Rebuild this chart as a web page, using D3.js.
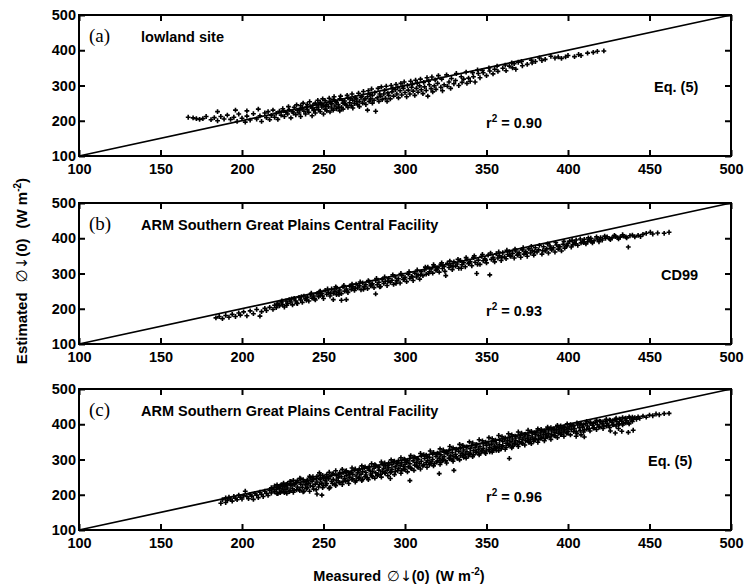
<!DOCTYPE html>
<html>
<head>
<meta charset="utf-8">
<script src="https://cdn.jsdelivr.net/npm/d3@7"></script>
<style>
  body { margin: 0; background: #fff; }
  text { font-family: "Liberation Sans", Arial, sans-serif; font-weight: bold; }
</style>
</head>
<body>
<div id="chart"></div>
<script>
// measured vs estimated, W m-2
const pointsA = [
  [167,210],[170,208],[172,206],[174,204],[176,206],[178,212],[181,203],[183,209],[185,226],[185,200],
  [187,212],[189,205],[191,216],[193,204],[195,210],[196,230],[197,198],[198,219],[200,207],[202,196],
  [203,228],[203,213],[205,202],[207,220],[209,205],[210,233],[211,214],[212,198],[214,222],[215,209],
  [216,226],[217,203],[218,215],[219,230],[220,210],[221,221],[222,204],[223,227],[224,216],[225,234],
  [226,212],[227,224],[228,219],[229,231],[230,208],[231,226],[232,238],[233,217],[234,229],[235,222],
  [236,243],[236,212],[237,235],[238,227],[239,219],[240,246],[240,232],[241,224],[242,240],[243,214],
  [243,236],[244,229],[245,250],[245,222],[246,238],[247,231],[247,245],[248,226],[248,252],[249,239],
  [250,219],[250,244],[251,233],[251,257],[252,228],[252,247],[253,240],[254,225],[254,255],[255,236],
  [255,248],[256,230],[256,260],[257,242],[258,234],[258,252],[259,246],[260,228],[260,262],[261,238],
  [262,250],[262,233],[263,256],[264,244],[265,238],[265,265],[266,251],[267,243],[268,258],[268,236],
  [269,249],[270,262],[271,245],[272,255],[272,240],[273,266],[274,250],[275,259],[276,246],[277,268],
  [277,230],[278,255],[279,262],[280,250],[280,272],[281,258],[282,227],[283,265],[284,255],[285,270],
  [286,260],[287,276],[288,264],[289,255],[290,272],[291,262],[292,282],[293,270],[294,288],[295,276],
  [296,265],[297,285],[298,273],[299,292],[300,280],[301,268],[302,287],[303,276],[304,295],[305,284],
  [306,272],[307,292],[308,281],[309,299],[310,288],[311,277],[312,296],[313,286],[314,270],[315,302],
  [316,291],[317,282],[318,299],[319,289],[320,306],[322,295],[323,285],[324,302],[326,298],[327,310],
  [328,292],[330,305],[331,314],[333,300],[335,309],[336,318],[338,306],[339,321],[340,312],[342,325],
  [343,310],[345,334],[346,322],[348,336],[350,328],[352,341],[354,333],[355,346],[357,340],[360,349],
  [362,342],[364,355],[366,350],[367,362],[368,346],[372,356],[375,360],[378,364],[380,368],[384,371],
  [386,374],[392,378],[394,381],[396,377],[400,385],[404,382],[408,385],[412,392],[418,397],[422,398],
  [225.5,228],[228.5,240],[231.5,222],[233.5,245],[235.5,231],[237.5,250],[239.5,238],[241.5,254],[243.5,244],[244.5,232],
  [246.5,258],[248.5,247],[249.5,262],[251.5,241],[253.5,264],[254.5,250],[256.5,268],[257.5,255],[259.5,238],[260.5,270],
  [261.5,258],[263.5,247],[264.5,272],[266.5,262],[267.5,276],[269.5,266],[270.5,254],[271.5,278],[273.5,270],[274.5,283],
  [275.5,262],[277.5,285],[278.5,274],[279.5,290],[281.5,280],[283.5,292],[284.5,276],[285.5,296],[287.5,286],[288.5,298],
  [289.5,279],[291.5,300],[292.5,291],[294.5,303],[295.5,294],[297.5,306],[298.5,297],[299.5,310],[301.5,300],[303.5,312],
  [304.5,303],[306.5,315],[307.5,306],[309.5,318],[311.5,309],[313.5,322],[314.5,312],[316.5,324],[318.5,316],[320.5,328],
  [322.5,318],[325.5,330],[328.5,320],[331.5,334],[334.5,325],[337.5,338],[341.5,336],[344.5,344],[347.5,343],[351.5,350],
  [356.5,355],[361.5,358],[365.5,364],[369.5,366],[371.5,368],[377.5,372],[382.5,378],[389.5,383],[398.5,381],[406.5,388],
  [415.5,394]
];

const pointsB = [
  [184,174],[186,178],[188,172],[190,181],[192,176],[194,184],[196,178],[198,188],[199,182],[201,191],
  [203,180],[205,194],[207,186],[209,198],[211,179],[212,192],[214,201],[215,195],[217,204],[219,198],
  [220,210],[221,203],[222,215],[223,208],[224,219],[225,212],[226,205],[227,222],[228,215],[229,226],
  [230,219],[231,211],[232,229],[233,222],[234,215],[235,232],[236,225],[237,218],[238,236],[239,228],
  [240,233],[241,222],[242,240],[243,230],[244,236],[245,225],[246,243],[247,234],[248,250],[248,238],
  [249,244],[250,229],[251,252],[252,241],[253,247],[254,236],[255,256],[256,244],[256,226],[257,250],
  [258,240],[258,259],[259,247],[260,253],[261,243],[261,224],[262,262],[263,250],[264,256],[264,226],
  [265,246],[266,264],[267,255],[268,262],[269,252],[270,270],[271,259],[272,265],[273,254],[274,273],
  [275,262],[276,268],[277,257],[278,276],[279,265],[280,271],[281,260],[282,280],[282,242],[283,268],
  [284,275],[285,263],[286,283],[287,272],[288,278],[289,266],[290,286],[291,275],[292,281],[293,269],
  [294,290],[295,279],[296,285],[297,273],[298,294],[299,283],[300,289],[301,277],[302,298],[303,286],
  [304,292],[305,280],[306,301],[307,290],[308,296],[309,284],[310,305],[311,294],[312,310],[313,298],
  [314,318],[315,305],[316,313],[317,301],[318,321],[319,309],[320,316],[321,304],[322,326],[323,314],
  [324,320],[325,294],[326,329],[327,317],[328,323],[329,311],[330,333],[331,321],[332,327],[333,315],
  [334,337],[335,325],[336,331],[337,319],[338,340],[339,328],[340,334],[341,322],[342,345],[343,332],
  [344,300],[345,338],[346,326],[347,349],[348,336],[349,342],[350,330],[351,352],[352,296],[353,340],
  [354,346],[355,333],[356,356],[357,344],[358,350],[359,337],[360,359],[361,347],[362,342],[363,354],
  [364,362],[365,349],[366,357],[367,344],[368,364],[369,352],[370,359],[371,346],[372,367],[373,355],
  [374,362],[375,349],[376,370],[377,358],[378,365],[379,352],[380,373],[381,361],[382,367],[384,355],
  [385,376],[386,364],[387,370],[388,358],[389,378],[390,367],[391,373],[392,361],[393,381],[394,369],
  [395,376],[396,364],[397,383],[398,372],[399,378],[400,386],[401,392],[402,375],[403,382],[404,389],
  [405,395],[406,380],[408,387],[409,392],[410,397],[411,384],[412,390],[413,395],[414,400],[415,387],
  [416,393],[418,398],[419,390],[420,402],[421,395],[423,400],[424,404],[426,396],[427,401],[429,405],
  [431,398],[432,403],[434,406],[436,401],[437,375],[438,407],[441,404],[443,408],[446,411],[448,414],
  [452,412],[455,415],[459,414],[462,417],
  [221.5,212],[224.5,222],[227.5,210],[230.5,228],[233.5,216],[236.5,234],[239.5,224],[242.5,244],[244.5,228],[247.5,248],
  [249.5,236],[252.5,256],[254.5,244],[257.5,262],[259.5,240],[262.5,266],[264.5,250],[267.5,270],[269.5,258],[272.5,276],
  [274.5,255],[277.5,280],[279.5,268],[282.5,286],[284.5,262],[287.5,290],[289.5,278],[292.5,296],[294.5,272],[297.5,300],
  [299.5,284],[302.5,305],[304.5,290],[307.5,310],[309.5,296],[312.5,318],[314.5,300],[317.5,325],[319.5,312],[322.5,330],
  [324.5,306],[327.5,335],[329.5,320],[332.5,340],[334.5,315],[337.5,345],[339.5,330],[342.5,350],[344.5,326],[347.5,354],
  [349.5,338],[352.5,358],[354.5,340],[357.5,361],[359.5,346],[362.5,366],[364.5,350],[367.5,369],[369.5,355],[372.5,373],
  [374.5,358],[377.5,377],[379.5,362],[382.5,380],[384.5,365],[387.5,384],[389.5,372],[392.5,388],[394.5,377],[397.5,391],
  [399.5,380],[402.5,394],[404.5,384],[407.5,398],[409.5,388],[412.5,401],[414.5,392],[417.5,404],[419.5,396],[422.5,406],
  [425.5,399],[428.5,408],[430.5,402],[433.5,410],[435.5,404],[439.5,409],[444.5,405],[450.5,417]
];

const pointsC = [
  [187,176],[188,186],[190,178],[190,191],[191,184],[192,193],[193,188],[194,182],[195,195],[196,190],
  [197,186],[198,199],[199,193],[200,188],[201,197],[202,210],[203,195],[204,189],[205,201],[206,196],
  [207,187],[208,204],[209,199],[210,192],[211,207],[212,201],[213,195],[214,210],[215,204],[216,198],
  [217,212],[218,220],[218,205],[219,216],[220,225],[220,208],[221,214],[222,221],[222,203],[223,217],
  [224,228],[224,210],[225,219],[226,224],[226,206],[227,215],[228,232],[228,219],[229,209],[230,226],
  [230,237],[231,217],[232,228],[232,212],[233,234],[234,222],[234,240],[235,215],[236,230],[236,245],
  [237,221],[238,236],[238,210],[239,228],[240,242],[240,220],[241,233],[242,248],[242,225],[243,238],
  [244,216],[244,245],[245,230],[246,252],[246,236],[246,202],[247,222],[248,243],[248,255],[249,233],
  [249,199],[250,247],[250,226],[251,240],[252,257],[252,232],[253,245],[254,221],[254,251],[255,238],
  [256,260],[256,244],[257,230],[258,254],[258,240],[259,248],[260,263],[260,234],[261,251],[262,238],
  [262,262],[263,246],[264,255],[264,268],[265,241],[266,257],[266,250],[267,264],[268,245],[268,258],
  [269,270],[270,253],[270,240],[271,262],[272,273],[272,249],[273,258],[274,266],[274,244],[275,276],
  [276,256],[276,263],[277,248],[278,270],[278,280],[279,259],[280,266],[280,251],[281,275],[282,262],
  [282,283],[283,254],[284,270],[284,278],[285,258],[286,287],[286,266],[287,275],[288,261],[288,282],
  [289,270],[290,290],[290,277],[291,263],[291,246],[292,285],[292,272],[293,294],[294,279],[294,266],
  [295,288],[296,274],[296,297],[297,283],[298,269],[298,291],[299,280],[300,299],[300,286],[300,272],
  [301,292],[302,279],[303,303],[303,288],[303,240],[304,274],[305,296],[306,284],[306,306],[307,291],
  [308,278],[308,300],[309,288],[310,310],[310,295],[311,282],[312,303],[313,291],[313,312],[314,297],
  [315,285],[315,306],[316,293],[317,315],[317,300],[318,288],[319,309],[320,296],[320,318],[321,304],
  [321,260],[322,292],[322,313],[323,300],[324,321],[324,308],[325,296],[326,316],[327,304],[327,325],
  [328,311],[329,299],[329,320],[330,308],[330,269],[331,328],[331,315],[332,303],[333,323],[334,311],
  [334,332],[335,318],[336,306],[336,327],[337,315],[338,336],[338,322],[339,310],[340,331],[340,318],
  [341,339],[342,325],[342,313],[343,334],[344,321],[344,342],[345,329],[346,317],[346,337],[347,325],
  [348,345],[348,332],[349,320],[350,340],[350,327],[351,347],[352,334],[352,322],[353,343],[354,330],
  [354,351],[354,326],[355,338],[356,326],[356,347],[357,335],[358,355],[358,342],[359,330],[360,351],
  [360,339],[361,358],[362,346],[362,334],[363,354],[364,342],[364,362],[364,303],[365,350],[366,338],
  [366,358],[367,346],[368,365],[368,354],[369,342],[370,361],[370,350],[371,368],[372,357],[372,345],
  [373,364],[374,353],[374,372],[375,360],[376,349],[376,368],[377,357],[378,375],[378,364],[379,352],
  [380,371],[380,360],[381,378],[382,367],[382,356],[383,375],[384,363],[384,381],[385,371],[386,360],
  [386,378],[387,368],[388,384],[388,374],[389,364],[390,381],[390,371],[391,387],[392,377],[392,367],
  [393,384],[394,374],[394,390],[395,381],[396,371],[396,387],[397,378],[398,392],[398,384],[399,375],
  [400,389],[400,380],[401,394],[402,385],[403,397],[404,388],[405,379],[405,366],[406,398],[407,390],
  [408,400],[408,370],[409,392],[410,384],[410,364],[411,402],[412,395],[413,388],[414,404],[415,397],
  [416,390],[417,406],[418,399],[419,393],[420,408],[421,401],[422,395],[423,409],[424,403],[425,397],
  [426,411],[426,381],[427,405],[428,399],[429,413],[429,375],[430,407],[431,401],[431,388],[432,414],
  [433,409],[433,380],[434,403],[435,416],[436,410],[437,405],[437,377],[438,418],[439,412],[440,415],
  [440,383],[441,419],[442,414],[443,421],[444,417],[446,423],[448,420],[450,426],[452,424],[454,429],
  [456,427],[459,430],[462,431],
  [221.5,228],[221.5,203],[223.5,226],[223.5,206],[225.5,233],[225.5,210],[227.5,229],[227.5,204],[229.5,238],[229.5,211],
  [231.5,241],[231.5,207],[233.5,236],[233.5,214],[235.5,247],[235.5,212],[237.5,243],[237.5,208],[239.5,237],[239.5,217],
  [241.5,252],[241.5,210],[243.5,251],[243.5,224],[245.5,246],[245.5,214],[247.5,262],[247.5,229],[249.5,255],[249.5,220],
  [251.5,248],[251.5,227],[253.5,264],[253.5,218],[255.5,259],[255.5,232],[257.5,268],[257.5,226],[259.5,256],[259.5,235],
  [261.5,272],[261.5,229],[263.5,266],[263.5,238],[265.5,262],[265.5,232],[267.5,276],[267.5,243],[269.5,273],[269.5,236],
  [271.5,268],[271.5,246],[273.5,282],[273.5,240],[275.5,279],[275.5,251],[277.5,274],[277.5,243],[279.5,288],[279.5,254],
  [281.5,285],[281.5,247],[283.5,279],[283.5,257],[285.5,293],[285.5,250],[287.5,290],[287.5,262],[289.5,284],[289.5,254],
  [291.5,299],[291.5,265],[293.5,295],[293.5,257],[295.5,290],[295.5,268],[297.5,305],[297.5,261],[299.5,301],[299.5,272],
  [301.5,296],[301.5,265],[303.5,311],[303.5,276],[305.5,307],[305.5,269],[307.5,302],[307.5,280],[309.5,317],[309.5,273],
  [311.5,314],[311.5,285],[313.5,308],[313.5,278],[315.5,324],[315.5,289],[317.5,320],[317.5,282],[319.5,315],[319.5,293],
  [321.5,330],[321.5,286],[323.5,327],[323.5,298],[325.5,322],[325.5,290],[327.5,337],[327.5,302],[329.5,333],[329.5,295],
  [331.5,329],[331.5,307],[333.5,343],[333.5,299],[335.5,340],[335.5,311],[337.5,335],[337.5,304],[339.5,350],[339.5,315],
  [341.5,347],[341.5,308],[343.5,342],[343.5,320],[345.5,356],[345.5,313],[347.5,353],[347.5,324],[349.5,349],[349.5,317],
  [351.5,362],[351.5,328],[353.5,359],[353.5,321],[355.5,355],[355.5,332],[357.5,368],[357.5,325],[359.5,365],[359.5,336],
  [361.5,361],[361.5,329],[363.5,373],[363.5,340],[365.5,370],[365.5,333],[367.5,366],[367.5,344],[369.5,378],[369.5,337],
  [371.5,375],[371.5,348],[373.5,371],[373.5,341],[375.5,383],[375.5,352],[377.5,380],[377.5,345],[379.5,376],[379.5,356],
  [381.5,387],[381.5,349],[383.5,385],[383.5,360],[385.5,381],[385.5,353],[387.5,392],[387.5,364],[389.5,390],[389.5,357],
  [391.5,386],[391.5,368],[393.5,397],[393.5,362],[395.5,395],[395.5,371],[397.5,392],[397.5,366],[399.5,401],[399.5,375],
  [401.5,399],[401.5,370],[403.5,396],[403.5,379],[405.5,404],[405.5,374],[407.5,402],[407.5,382],[409.5,399],[409.5,378],
  [411.5,408],[411.5,386],[413.5,405],[413.5,381],[415.5,403],[415.5,389],[417.5,411],[417.5,385],[419.5,409],[419.5,392],
  [421.5,407],[421.5,388],[423.5,414],[423.5,395],[425.5,412],[425.5,391],[427.5,410],[427.5,398],[429.5,417],[429.5,395],
  [431.5,415],[431.5,401],[433.5,419],[433.5,398],[435.5,417],[435.5,404],[437.5,421],[437.5,401],[439.5,420],[439.5,408]
];

const xTicks = [100, 150, 200, 250, 300, 350, 400, 450, 500];
const yTicks = [100, 200, 300, 400, 500];
const oneToOne = [[100, 100], [500, 500]];

const panelTags = ["(a)", "(b)", "(c)"];
const panelTitles = ["lowland site", "ARM Southern Great Plains Central Facility", "ARM Southern Great Plains Central Facility"];
const methodLabels = ["Eq. (5)", "CD99", "Eq. (5)"];
const r2Labels = ["0.90", "0.93", "0.96"];

const width = 745;
const height = 588;
const left = 79;
const right = 731;
const panelHeight = 141;
const panelTops = [15, 203, 389];
const methodX = [654, 661, 648];
const tickLen = 6;

const svg = d3.select("#chart")
  .append("svg")
  .attr("width", width)
  .attr("height", height);

svg.append("rect").attr("width", width).attr("height", height).attr("fill", "#fff");

const x = d3.scaleLinear().domain([100, 500]).range([left, right]);
const cross = d3.symbol(d3.symbolCross).size(13);

const drawPanel = (data, i) => {
  const top = panelTops[i];
  const y = d3.scaleLinear().domain([100, 500]).range([top + panelHeight, top]);
  const g = svg.append("g");

  // ticks point inward
  const styleAxis = (ax) => {
    ax.select(".domain").remove();
    ax.selectAll(".tick line").attr("stroke", "#000").attr("stroke-width", 2);
    ax.selectAll("text").attr("fill", "#000").style("font-size", "14.5px")
      .style("font-family", "'Liberation Sans', Arial, sans-serif").style("font-weight", "bold");
  };

  g.append("g")
    .attr("transform", `translate(0,${top + panelHeight})`)
    .call(d3.axisBottom(x).tickValues(xTicks).tickSize(-tickLen).tickSizeOuter(0).tickPadding(8))
    .call(styleAxis);
  g.append("g")
    .attr("transform", `translate(0,${top})`)
    .call(d3.axisTop(x).tickValues(xTicks).tickSize(-tickLen).tickSizeOuter(0).tickFormat(""))
    .call(styleAxis);
  g.append("g")
    .attr("transform", `translate(${left},0)`)
    .call(d3.axisLeft(y).tickValues(yTicks).tickSize(-tickLen).tickSizeOuter(0).tickPadding(3))
    .call(styleAxis);
  g.append("g")
    .attr("transform", `translate(${right},0)`)
    .call(d3.axisRight(y).tickValues(yTicks).tickSize(-tickLen).tickSizeOuter(0).tickFormat(""))
    .call(styleAxis);

  // 1:1 line
  g.append("path")
    .datum(oneToOne)
    .attr("d", d3.line().x((d) => x(d[0])).y((d) => y(d[1])))
    .attr("fill", "none")
    .attr("stroke", "#000")
    .attr("stroke-width", 1.7);

  g.append("g")
    .selectAll("path")
    .data(data)
    .join("path")
    .attr("transform", (d) => `translate(${x(d[0])},${y(d[1])})`)
    .attr("d", cross)
    .attr("fill", "#000");

  g.append("rect")
    .attr("x", left)
    .attr("y", top)
    .attr("width", right - left)
    .attr("height", panelHeight)
    .attr("fill", "none")
    .attr("stroke", "#000")
    .attr("stroke-width", 2);

  g.append("text")
    .attr("x", 89)
    .attr("y", top + 27)
    .style("font-family", "'Liberation Serif', 'Times New Roman', serif")
    .style("font-weight", "normal")
    .style("font-size", "19px")
    .text(panelTags[i]);

  g.append("text")
    .attr("x", 141)
    .attr("y", top + 27)
    .style("font-size", "14.5px")
    .text(panelTitles[i]);

  g.append("text")
    .attr("x", methodX[i])
    .attr("y", top + 77)
    .style("font-size", "14.5px")
    .text(methodLabels[i]);

  const r2 = g.append("text")
    .attr("x", 486)
    .attr("y", top + 113)
    .style("font-size", "14.5px");
  r2.append("tspan").text("r");
  r2.append("tspan").attr("dy", -6).style("font-size", "10px").text("2");
  r2.append("tspan").attr("dy", 6).text(` = ${r2Labels[i]}`);
};

[pointsA, pointsB, pointsC].forEach(drawPanel);

// axis titles
const addTitle = (sel, name, gap) => {
  sel.append("tspan").text(name);
  sel.append("tspan").attr("dx", gap).style("font-weight", "normal")
    .style("font-family", "'DejaVu Sans', sans-serif").text("\u2205\u2193");
  sel.append("tspan").text("(0)");
  sel.append("tspan").attr("dx", gap).text("(W m");
  sel.append("tspan").attr("dy", -6).style("font-size", "10px").text("-2");
  sel.append("tspan").attr("dy", 6).text(")");
};

svg.append("text")
  .attr("transform", "translate(27,271) rotate(-90)")
  .attr("text-anchor", "middle")
  .style("font-size", "15px")
  .call(addTitle, "Estimated", 10);

svg.append("text")
  .attr("x", 399)
  .attr("y", 581)
  .attr("text-anchor", "middle")
  .style("font-size", "14.5px")
  .call(addTitle, "Measured", 6);
</script>
</body>
</html>
